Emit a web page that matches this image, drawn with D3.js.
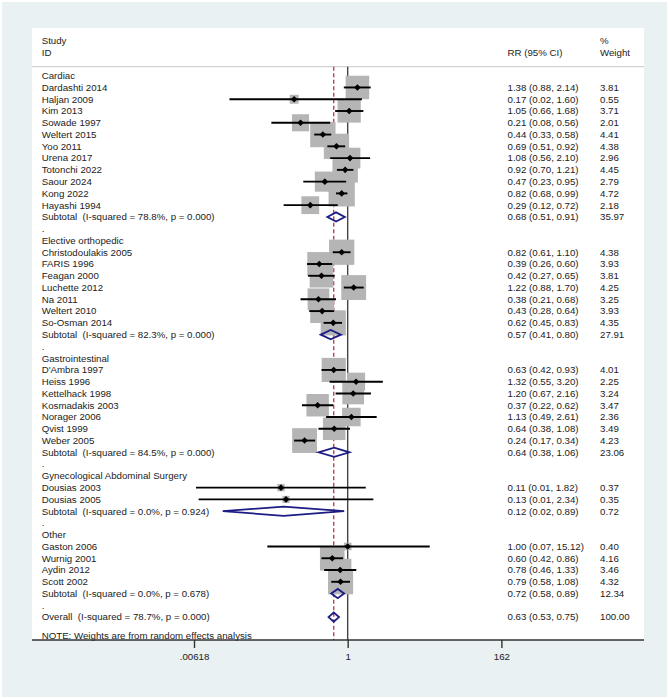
<!DOCTYPE html>
<html>
<head>
<meta charset="utf-8">
<script src="https://cdn.jsdelivr.net/npm/d3@7"></script>
<style>
  body { margin: 0; background: #fff; }
  text { font-family: "Liberation Sans", Arial, sans-serif; font-size: 9.7px; fill: #222; white-space: pre; }
</style>
</head>
<body>
<svg class="chart"></svg>
<script>
// DATA /////////////////////////////////////////
const groups = ["Cardiac", "Elective orthopedic", "Gastrointestinal", "Gynecological Abdominal Surgery", "Other"];

const studyNames = [
  "Dardashti 2014", "Haljan 2009", "Kim 2013", "Sowade 1997", "Weltert 2015", "Yoo 2011", "Urena 2017", "Totonchi 2022", "Saour 2024", "Kong 2022", "Hayashi 1994",
  "Christodoulakis 2005", "FARIS 1996", "Feagan 2000", "Luchette 2012", "Na 2011", "Weltert 2010", "So-Osman 2014",
  "D'Ambra 1997", "Heiss 1996", "Kettelhack 1998", "Kosmadakis 2003", "Norager 2006", "Qvist 1999", "Weber 2005",
  "Dousias 2003", "Dousias 2005",
  "Gaston 2006", "Wurnig 2001", "Aydin 2012", "Scott 2002"
];
const studyGroup = [0,0,0,0,0,0,0,0,0,0,0, 1,1,1,1,1,1,1, 2,2,2,2,2,2,2, 3,3, 4,4,4,4];
const studyRR = [1.38, 0.17, 1.05, 0.21, 0.44, 0.69, 1.08, 0.92, 0.47, 0.82, 0.29,
  0.82, 0.39, 0.42, 1.22, 0.38, 0.43, 0.62,
  0.63, 1.32, 1.20, 0.37, 1.13, 0.64, 0.24,
  0.11, 0.13,
  1.00, 0.60, 0.78, 0.79];
const studyLo = [0.88, 0.02, 0.66, 0.08, 0.33, 0.51, 0.56, 0.70, 0.23, 0.68, 0.12,
  0.61, 0.26, 0.27, 0.88, 0.21, 0.28, 0.45,
  0.42, 0.55, 0.67, 0.22, 0.49, 0.38, 0.17,
  0.0066, 0.0072,
  0.07, 0.42, 0.46, 0.58];
const studyHi = [2.14, 1.60, 1.68, 0.56, 0.58, 0.92, 2.10, 1.21, 0.95, 0.99, 0.72,
  1.10, 0.60, 0.65, 1.70, 0.68, 0.64, 0.83,
  0.93, 3.20, 2.16, 0.62, 2.61, 1.08, 0.34,
  1.82, 2.34,
  15.12, 0.86, 1.33, 1.08];
const studyWeight = [3.81, 0.55, 3.71, 2.01, 4.41, 4.38, 2.96, 4.45, 2.79, 4.72, 2.18,
  4.38, 3.93, 3.81, 4.25, 3.25, 3.93, 4.35,
  4.01, 2.25, 3.24, 3.47, 2.36, 3.49, 4.23,
  0.37, 0.35,
  0.40, 4.16, 3.46, 4.32];

const subI2 = ["78.8", "82.3", "84.5", "0.0", "0.0"];
const subP = ["0.000", "0.000", "0.000", "0.924", "0.678"];
const subRR = [0.68, 0.57, 0.64, 0.12, 0.72];
const subLo = [0.51, 0.41, 0.38, 0.016, 0.58];
const subHi = [0.91, 0.80, 1.06, 0.89, 0.89];
const subWeight = [35.97, 27.91, 23.06, 0.72, 12.34];

const overall = { i2: "78.7", p: "0.000", rr: 0.63, lo: 0.53, hi: 0.75, w: 100.00 };

const tickValues = [0.00618, 1, 162];
const tickLabels = [".00618", "1", "162"];

// ROWS /////////////////////////////////////////
const rows = [];
groups.forEach((g, gi) => {
  rows.push({ type: "head", label: g });
  studyNames.forEach((n, i) => {
    if (studyGroup[i] !== gi) return;
    rows.push({ type: "study", label: n, rr: studyRR[i], lo: studyLo[i], hi: studyHi[i], w: studyWeight[i] });
  });
  rows.push({ type: "pool", label: `Subtotal  (I-squared = ${subI2[gi]}%, p = ${subP[gi]})`,
    rr: subRR[gi], lo: subLo[gi], hi: subHi[gi], w: subWeight[gi] });
  rows.push({ type: "blank", label: "." });
});
rows.push({ type: "pool", label: `Overall  (I-squared = ${overall.i2}%, p = ${overall.p})`,
  rr: overall.rr, lo: overall.lo, hi: overall.hi, w: overall.w });
rows.forEach((r, i) => (r.i = i));

// DEFINITIONS //////////////////////////////////
const W = 669, H = 699;
const plot = { left: 32, right: 644, top: 28, bottom: 640 };
const svg = d3.select(".chart").attr("width", W).attr("height", H);

const x = d3.scaleLog().domain([0.00618, 162]).range([194, 501.4]);
const y = d3.scaleLinear().domain([0, rows.length - 1]).range([75.7, 617.1]);
const side = d3.scaleSqrt().domain([0, 4.72]).range([0, 26.2]);

const fmt = (v) => v.toFixed(2);
const ciText = (r) => `${fmt(r.rr)} (${fmt(r.lo)}, ${fmt(r.hi)})`;

// BACKGROUND ///////////////////////////////////
svg.append("rect").attr("x", 2).attr("y", 2).attr("width", W - 4).attr("height", H - 4).attr("fill", "#e9f1f3");
svg.append("rect").attr("x", plot.left).attr("y", plot.top)
  .attr("width", plot.right - plot.left).attr("height", plot.bottom - plot.top).attr("fill", "#fff");

// header
const headLine = 66.7;
svg.append("line").attr("x1", plot.left).attr("x2", plot.right).attr("y1", headLine).attr("y2", headLine)
  .attr("stroke", "#c8c8c8").attr("stroke-width", 1);
const hdr = [
  { t: "Study", x: 41.7, y: 41 }, { t: "ID", x: 41.7, y: 52.7 },
  { t: "RR (95% CI)", x: 507.5, y: 52.7 },
  { t: "%", x: 600, y: 41 }, { t: "Weight", x: 600, y: 52.7 }
];
svg.selectAll(".hdr").data(hdr).enter().append("text").attr("class", "hdr")
  .attr("x", (d) => d.x).attr("y", (d) => d.y).attr("dy", "0.35em").text((d) => d.t);

// REFERENCE LINES //////////////////////////////
svg.append("line").attr("x1", x(1)).attr("x2", x(1)).attr("y1", headLine).attr("y2", plot.bottom)
  .attr("stroke", "#444").attr("stroke-width", 1.4);
svg.append("line").attr("x1", x(overall.rr)).attr("x2", x(overall.rr)).attr("y1", headLine).attr("y2", plot.bottom)
  .attr("stroke", "#b24a55").attr("stroke-width", 1.4).attr("stroke-dasharray", "4,2.5");

// STUDIES //////////////////////////////////////
const studies = rows.filter((r) => r.type === "study");
svg.selectAll(".box").data(studies).enter().append("rect").attr("class", "box")
  .attr("x", (d) => x(d.rr) - side(d.w) / 2).attr("y", (d) => y(d.i) - side(d.w) / 2)
  .attr("width", (d) => side(d.w)).attr("height", (d) => side(d.w))
  .attr("fill", "#b5b5b5");
svg.selectAll(".ci").data(studies).enter().append("line").attr("class", "ci")
  .attr("x1", (d) => x(d.lo)).attr("x2", (d) => x(d.hi))
  .attr("y1", (d) => y(d.i)).attr("y2", (d) => y(d.i))
  .attr("stroke", "#000").attr("stroke-width", 1.9);
svg.selectAll(".pt").data(studies).enter().append("path").attr("class", "pt")
  .attr("d", (d) => {
    const cx = x(d.rr), cy = y(d.i), r = 3.3;
    return `M${cx - r},${cy}L${cx},${cy - r}L${cx + r},${cy}L${cx},${cy + r}Z`;
  })
  .attr("fill", "#000");

// POOLED DIAMONDS //////////////////////////////
const pools = rows.filter((r) => r.type === "pool");
svg.selectAll(".dia").data(pools).enter().append("path").attr("class", "dia")
  .attr("d", (d) => {
    const cy = y(d.i), h = 4.6;
    return `M${x(d.lo)},${cy}L${x(d.rr)},${cy - h}L${x(d.hi)},${cy}L${x(d.rr)},${cy + h}Z`;
  })
  .attr("fill", "none").attr("stroke", "#1c1c84").attr("stroke-width", 1.8);

// TEXT COLUMNS /////////////////////////////////
svg.selectAll(".lab").data(rows).enter().append("text").attr("class", "lab")
  .attr("x", 41.7).attr("y", (d) => y(d.i)).attr("dy", "0.35em").text((d) => d.label);
const valued = rows.filter((r) => r.type === "study" || r.type === "pool");
svg.selectAll(".rr").data(valued).enter().append("text").attr("class", "rr")
  .attr("x", 507.5).attr("y", (d) => y(d.i)).attr("dy", "0.35em").text(ciText);
svg.selectAll(".wt").data(valued).enter().append("text").attr("class", "wt")
  .attr("x", 600).attr("y", (d) => y(d.i)).attr("dy", "0.35em").text((d) => fmt(d.w));

svg.append("text").attr("x", 41.7).attr("y", 635.5).attr("dy", "0.35em")
  .text("NOTE: Weights are from random effects analysis");

// AXIS /////////////////////////////////////////
svg.append("line").attr("x1", plot.left).attr("x2", plot.right).attr("y1", plot.bottom).attr("y2", plot.bottom)
  .attr("stroke", "#333").attr("stroke-width", 1.4);
const axisG = svg.append("g").attr("transform", `translate(0, ${plot.bottom})`);
const axis = d3.axisBottom(x).tickValues(tickValues).tickFormat((d, i) => tickLabels[i]).tickSize(8).tickPadding(5);
axisG.call(axis);
axisG.select(".domain").remove();
axisG.selectAll(".tick line").attr("stroke", "#333").attr("stroke-width", 1.4);
axisG.selectAll(".tick text").attr("font-family", "Liberation Sans, Arial, sans-serif").attr("font-size", "9.7px").attr("fill", "#222");
</script>
</body>
</html>
